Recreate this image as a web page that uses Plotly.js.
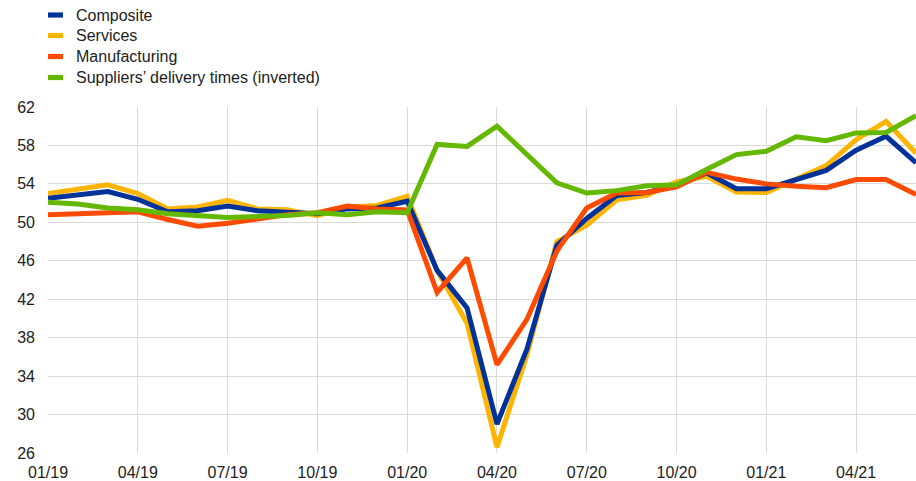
<!DOCTYPE html>
<html>
<head>
<meta charset="utf-8">
<script src="https://cdn.plot.ly/plotly-3.0.1.min.js"></script>
<style>html,body{margin:0;padding:0;background:#fff;}#chart{width:916px;height:481px;}</style>
</head>
<body>
<div id="chart"></div>
<script>
const months = ["01/19","02/19","03/19","04/19","05/19","06/19","07/19","08/19","09/19","10/19","11/19","12/19",
  "01/20","02/20","03/20","04/20","05/20","06/20","07/20","08/20","09/20","10/20","11/20","12/20",
  "01/21","02/21","03/21","04/21","05/21","06/21"];
const tickLabels = ["01/19","04/19","07/19","10/19","01/20","04/20","07/20","10/20","01/21","04/21"];
const composite = [52.5,52.9,53.2,52.4,51.1,51.2,51.7,51.2,51.1,50.9,51.4,51.5,
  52.2,45.0,41.1,29.0,36.8,47.6,50.4,52.8,53.1,53.8,55.15,53.5,
  53.5,54.45,55.4,57.5,58.95,56.2];
const services = [53.0,53.5,53.9,53.0,51.4,51.6,52.3,51.4,51.3,50.7,51.6,51.75,
  52.7,45.0,39.5,26.6,36.2,48.0,49.7,52.35,52.8,54.2,54.8,53.15,
  53.1,54.5,55.9,58.6,60.5,57.2];
const manufacturing = [50.8,50.9,50.95,51.1,50.3,49.6,49.9,50.3,50.8,51.0,51.7,51.4,
  51.3,42.7,46.3,35.2,39.9,47.0,51.5,53.05,53.1,53.7,55.2,54.5,
  54.0,53.75,53.6,54.45,54.45,52.9];
const deliveryInv = [52.1,51.9,51.5,51.3,50.9,50.7,50.5,50.6,50.7,51.0,50.8,51.1,
  51.0,58.1,57.9,60.0,57.05,54.1,53.05,53.3,53.8,53.9,55.5,57.05,
  57.4,58.9,58.5,59.3,59.35,61.1];
const yTicks = [26,30,34,38,42,46,50,54,58,62];

const seriesNames = ['Composite','Services','Manufacturing','Suppliers\u2019 delivery times (inverted)'];
const seriesColors = ['#003299','#FFB400','#FF4B00','#65B800'];

const W = 916, H = 481;
const M = {l: 48, r: 0, t: 107, b: 28};

const mk = (i, y) => ({
  type: 'scatter', mode: 'lines', name: seriesNames[i], x: months, y: y,
  line: {color: seriesColors[i], width: 5}, hoverinfo: 'skip', showlegend: false
});
// drawing order: services under composite, manufacturing and delivery times on top
const data = [mk(1, services), mk(0, composite), mk(2, manufacturing), mk(3, deliveryInv)];

// legend drawn at the top-left, in pixel positions converted to paper coords
const pw = W - M.l - M.r, ph = H - M.t - M.b;
const px = v => (v - M.l) / pw;
const py = v => (H - M.b - v) / ph;
const rowY = [15, 35.5, 56.5, 77.5];
const shapes = [], annotations = [];
seriesNames.forEach((n, i) => {
  shapes.push({type: 'rect', xref: 'paper', yref: 'paper',
    x0: px(48), x1: px(63), y0: py(rowY[i] - 2.6), y1: py(rowY[i] + 2.6),
    fillcolor: seriesColors[i], line: {width: 0}});
  annotations.push({xref: 'paper', yref: 'paper', x: px(74), y: py(rowY[i]),
    xanchor: 'left', yanchor: 'middle', showarrow: false, text: n,
    font: {size: 16, color: '#222'}});
});

const layout = {
  width: W, height: H,
  margin: {l: M.l, r: M.r, t: M.t, b: M.b, autoexpand: false},
  paper_bgcolor: '#fff', plot_bgcolor: '#fff',
  font: {family: 'Liberation Sans, Arial, sans-serif', size: 16, color: '#222'},
  showlegend: false,
  shapes: shapes, annotations: annotations,
  xaxis: {
    type: 'category', categoryorder: 'array', categoryarray: months,
    range: [0, 29], tickmode: 'array', tickvals: tickLabels, ticktext: tickLabels,
    showgrid: true, gridcolor: '#d9d9d9', gridwidth: 1, zeroline: false,
    showline: false, ticks: '', ticklabelstandoff: 8, fixedrange: true,
    tickfont: {size: 16, color: '#222'}
  },
  yaxis: {
    range: [26, 62], tickmode: 'array', tickvals: yTicks,
    showgrid: true, gridcolor: '#d9d9d9', gridwidth: 1, zeroline: false,
    showline: false, ticks: '', ticklabelstandoff: 12, fixedrange: true,
    tickfont: {size: 16, color: '#222'}
  }
};
Plotly.newPlot('chart', data, layout, {displayModeBar: false, staticPlot: true});
</script>
</body>
</html>
